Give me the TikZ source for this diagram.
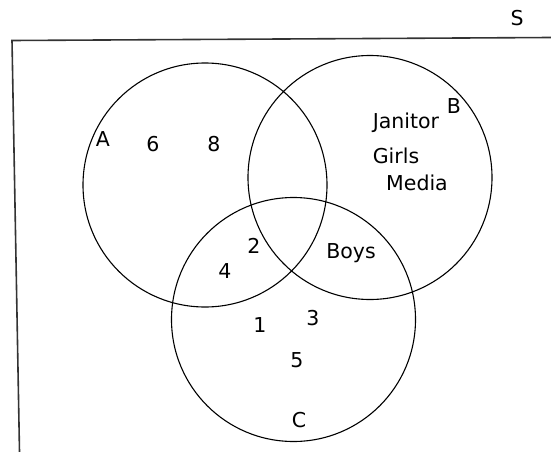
\documentclass[tikz,border=0pt]{standalone}
\usepackage{fontspec}
\setmainfont{DejaVu Sans}
\usetikzlibrary{positioning}
\begin{document}
\begin{tikzpicture}[x=1pt,y=-1pt,
    set/.style={circle,draw=black,line width=1.1pt,minimum size=2*\r pt,inner sep=0pt},
    lbl/.style={font=\fontsize{20.5}{24}\selectfont,anchor=base,inner sep=0pt}]
  \def\r{122}
  \useasboundingbox (0,0) rectangle (551,452);
  % Frame of S: top and left edges only
  \coordinate (ul) at (12,40.5);
  \coordinate (ur) at (551,37.5);
  \coordinate (ll) at (19.5,452);
  \draw[black!80,line width=1.6pt] (ur) -- (ul) -- (ll);
  % Sets A, B, C
  \node[set] (setA) at (205,185) {};
  \node[set] (setB) at (370,177.5) {};
  \node[set] (setC) at (293.5,319.5) {};
  % Labels and elements
  \foreach \n/\x/\y/\t in {S/517/26/S,A/103/146/A,B/454/113/B,C/299/427/C,
      six/153/151/6,eight/214/151/8,two/254/253/2,four/225/278/4,
      one/260/332/1,three/313/325/3,five/297/367/5}
    \node[lbl] (l\n) at (\x,\y) {\t};
  \node[lbl] (janitor) at (406,128) {Janitor};
  \node[lbl] (girls) at (396,163) {Girls};
  \node[lbl] (media) at (417,190) {Media};
  \node[lbl] (boys) at (351,258) {Boys};
\end{tikzpicture}
\end{document}
